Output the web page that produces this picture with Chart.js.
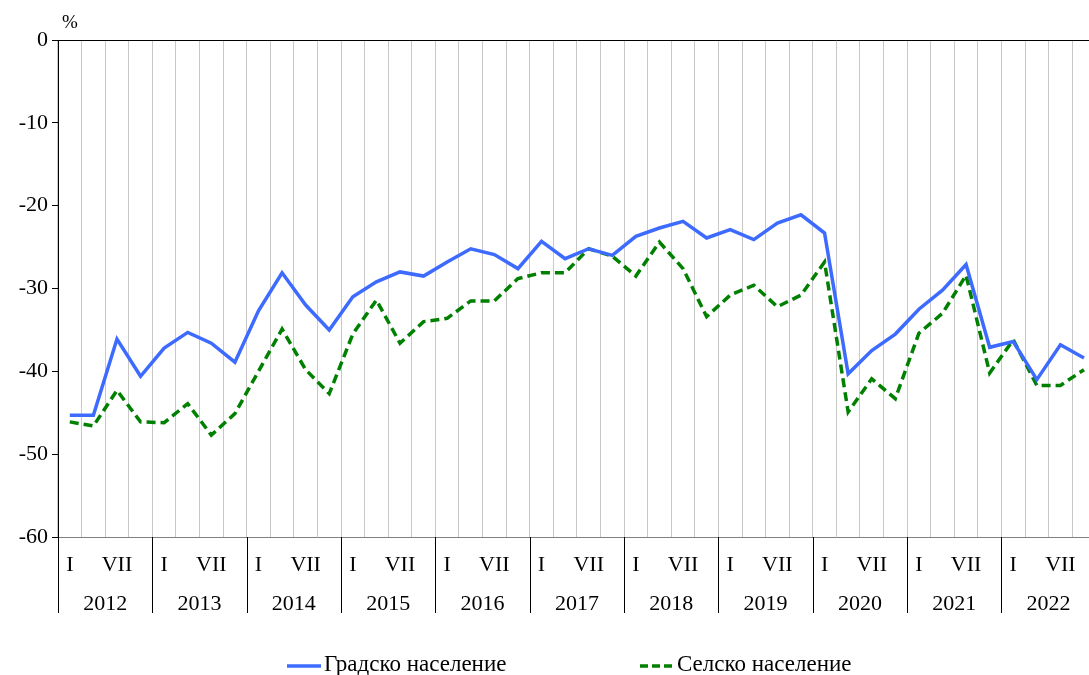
<!DOCTYPE html>
<html>
<head>
<meta charset="utf-8">
<script src="https://cdn.jsdelivr.net/npm/chart.js@4/dist/chart.umd.min.js"></script>
<style>
  body { margin: 0; overflow: hidden; background: #fff; }
  #wrap { position: relative; width: 1099px; height: 675px; }
  .leg { position: absolute; top: 651px; font: 23px "Liberation Serif", "Times New Roman", serif; color: #000; white-space: nowrap; }
  .leg svg { vertical-align: middle; margin-right: 3px; }
</style>
</head>
<body>
<div id="wrap">
  <canvas id="chart"></canvas>
  <div class="leg" style="left:287px"><svg width="34" height="6"><line x1="0" y1="3" x2="34" y2="3" stroke="#3d6bff" stroke-width="3.5"/></svg>Градско население</div>
  <div class="leg" style="left:640px"><svg width="34" height="6"><line x1="0" y1="3" x2="34" y2="3" stroke="#008000" stroke-width="3.5" stroke-dasharray="8,4"/></svg>Селско население</div>
</div>
<script>
// quarters 2012 - 2022
const years = ['2012', '2013', '2014', '2015', '2016', '2017', '2018', '2019', '2020', '2021', '2022'];
const quarterLabels = ['I', '', 'VII', ''];
const yTicks = [0, -10, -20, -30, -40, -50, -60];

const urban = [
  -45.3, -45.3, -36.1, -40.6,  -37.2, -35.3, -36.6, -38.9,
  -32.7, -28.1, -32.0, -35.0,  -31.0, -29.2, -28.0, -28.5,
  -26.8, -25.2, -25.9, -27.6,  -24.3, -26.4, -25.2, -26.0,
  -23.7, -22.7, -21.9, -23.9,  -22.9, -24.1, -22.1, -21.1,
  -23.3, -40.3, -37.5, -35.5,  -32.5, -30.2, -27.1, -37.1,
  -36.4, -41.0, -36.8, -38.4
];
const rural = [
  -46.1, -46.6, -42.3, -46.1,  -46.2, -43.9, -47.7, -45.1,
  -40.0, -34.9, -39.8, -42.7,  -35.5, -31.4, -36.6, -34.0,
  -33.6, -31.5, -31.5, -28.8,  -28.1, -28.1, -25.2, -26.1,
  -28.5, -24.4, -27.6, -33.4,  -30.8, -29.6, -32.2, -30.8,
  -26.8, -44.9, -40.9, -43.3,  -35.4, -33.0, -28.4, -40.2,
  -36.2, -41.7, -41.7, -39.8
];

const labels = [];
years.forEach(y => quarterLabels.forEach((q, i) => labels.push(y + '-' + i)));

const FONT = '"Liberation Serif", "Times New Roman", serif';

const extras = {
  id: 'extras',
  afterDraw(chart) {
    const c = chart.ctx;
    const x = chart.scales.x;
    const area = chart.chartArea;
    const half = (x.getPixelForValue(1) - x.getPixelForValue(0)) / 2;
    c.save();
    c.fillStyle = '#000';
    c.font = '19px ' + FONT;
    c.textAlign = 'left';
    c.textBaseline = 'alphabetic';
    c.fillText('%', 62, 28);

    c.strokeStyle = '#000';
    c.lineWidth = 1;
    c.font = '22px ' + FONT;
    c.textAlign = 'center';
    c.textBaseline = 'middle';
    years.forEach((y, i) => {
      const left = x.getPixelForValue(i * 4) - half;
      const right = x.getPixelForValue(i * 4 + 3) + half;
      const lx = Math.round(left) + 0.5;
      c.beginPath();
      c.moveTo(lx, area.bottom);
      c.lineTo(lx, 613);
      c.stroke();
      c.fillText(y, (left + right) / 2, 604);
    });
    c.restore();
  }
};

new Chart(document.getElementById('chart'), {
  type: 'line',
  data: {
    labels: labels,
    datasets: [
      {
        label: 'Градско население',
        data: urban,
        borderColor: '#3d6bff',
        borderWidth: 3.5,
        pointRadius: 0,
        tension: 0,
        fill: false
      },
      {
        label: 'Селско население',
        data: rural,
        borderColor: '#008000',
        borderWidth: 3.5,
        borderDash: [9, 5],
        pointRadius: 0,
        tension: 0,
        fill: false
      }
    ]
  },
  options: {
    responsive: true,
    maintainAspectRatio: false,
    animation: false,
    layout: { padding: { top: 40, left: 0, right: 0, bottom: 0 } },
    plugins: {
      legend: { display: false },
      tooltip: { enabled: false }
    },
    scales: {
      x: {
        type: 'category',
        offset: true,
        grid: { color: '#c8c8c8', lineWidth: 1, drawTicks: false, offset: true },
        border: { color: '#808080', width: 1 },
        ticks: {
          autoSkip: false,
          maxRotation: 0,
          padding: 15,
          color: '#000',
          font: { family: FONT, size: 22 },
          callback: (v, i) => quarterLabels[i % 4]
        },
        afterFit: s => { s.height = 138; }
      },
      y: {
        min: -60,
        max: 0,
        afterBuildTicks: s => { s.ticks = yTicks.map(v => ({ value: v })); },
        grid: {
          color: ctx => (ctx.tick && ctx.tick.value === 0) ? '#000' : 'rgba(0,0,0,0)',
          tickColor: '#000',
          tickLength: 6,
          lineWidth: 1
        },
        border: { color: '#000', width: 1 },
        ticks: {
          padding: 4,
          color: '#000',
          font: { family: FONT, size: 22 }
        },
        afterFit: s => { s.width = 58; }
      }
    }
  },
  plugins: [extras]
});
</script>
</body>
</html>
